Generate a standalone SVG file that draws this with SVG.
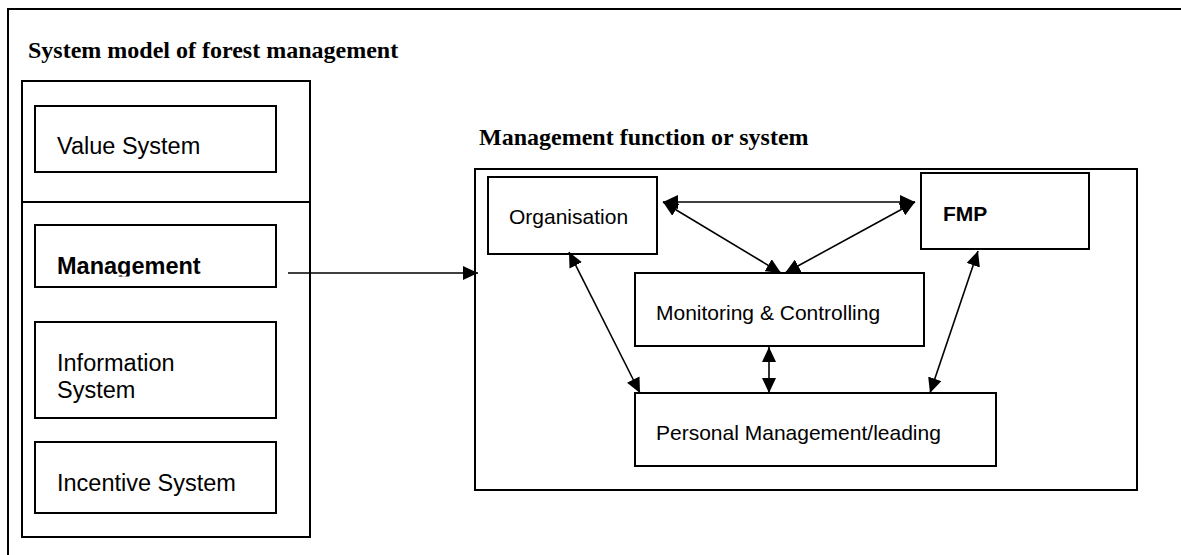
<svg xmlns="http://www.w3.org/2000/svg" width="1181" height="555" viewBox="0 0 1181 555">
<style>
.box{fill:#fff;stroke:#000;stroke-width:2}
.frame{fill:none;stroke:#000;stroke-width:2}
.title{font-family:"Liberation Serif",serif;font-weight:bold;font-size:24px;fill:#000}
.lt{font-family:"Liberation Sans",Arial,sans-serif;font-size:23.5px;fill:#000}
.rt{font-family:"Liberation Sans",Arial,sans-serif;font-size:21px;fill:#000}
.b{font-weight:bold}
.conn{fill:none;stroke:#000;stroke-width:1.6}
</style>
<defs>
<marker id="ah" markerUnits="userSpaceOnUse" markerWidth="16" markerHeight="14" refX="15" refY="7" orient="auto-start-reverse">
<path d="M0,0 L15,7 L0,14 z" fill="#000"/>
</marker>
<clipPath id="mclip"><rect x="35" y="225" width="241" height="51.5"/></clipPath>
</defs>
<rect width="1181" height="555" fill="#fff"/>
<g id="outer-frame">
<rect class="frame" x="8" y="9" width="1250" height="600"/>
<text class="title" x="28" y="58">System model of forest management</text>
</g>
<g id="left-panel">
<rect class="frame" x="22" y="81" width="288" height="456"/>
<line x1="22" y1="202" x2="310" y2="202" stroke="#000" stroke-width="2"/>
</g>
<g id="value-system">
<rect class="box" x="35" y="106" width="241" height="66"/>
<text class="lt" x="57" y="154">Value System</text>
</g>
<g id="management">
<rect class="box" x="35" y="225" width="241" height="62"/>
<text class="lt b" x="57" y="274" clip-path="url(#mclip)">Management</text>
</g>
<g id="information-system">
<rect class="box" x="35" y="322" width="241" height="96"/>
<text class="lt" x="57" y="371">Information</text>
<text class="lt" x="57" y="398">System</text>
</g>
<g id="incentive-system">
<rect class="box" x="35" y="442" width="241" height="71"/>
<text class="lt" x="57" y="491">Incentive System</text>
</g>
<g id="management-function">
<text class="title" x="479" y="145">Management function or system</text>
<rect class="frame" x="475" y="169" width="662" height="321"/>
</g>
<g id="organisation">
<rect class="box" x="488" y="177" width="169" height="77"/>
<text class="rt" x="509" y="224">Organisation</text>
</g>
<g id="fmp">
<rect class="box" x="921" y="173" width="168" height="76"/>
<text class="rt b" x="943" y="221">FMP</text>
</g>
<g id="monitoring">
<rect class="box" x="635" y="273" width="289" height="73"/>
<text class="rt" x="656" y="320">Monitoring &amp; Controlling</text>
</g>
<g id="personal">
<rect class="box" x="635" y="393" width="361" height="73"/>
<text class="rt" x="656" y="440">Personal Management/leading</text>
</g>
<g id="connectors">
<line class="conn" x1="288" y1="273" x2="478" y2="273" marker-end="url(#ah)"/>
<line class="conn" x1="663" y1="202" x2="915" y2="202" marker-start="url(#ah)" marker-end="url(#ah)"/>
<line class="conn" x1="663" y1="202" x2="781" y2="273" marker-start="url(#ah)" marker-end="url(#ah)"/>
<line class="conn" x1="915" y1="202" x2="785" y2="273" marker-start="url(#ah)" marker-end="url(#ah)"/>
<line class="conn" x1="569" y1="252" x2="640" y2="393" marker-start="url(#ah)" marker-end="url(#ah)"/>
<line class="conn" x1="769" y1="347" x2="769" y2="393" marker-start="url(#ah)" marker-end="url(#ah)"/>
<line class="conn" x1="978" y1="251" x2="930" y2="393" marker-start="url(#ah)" marker-end="url(#ah)"/>
</g>
</svg>
